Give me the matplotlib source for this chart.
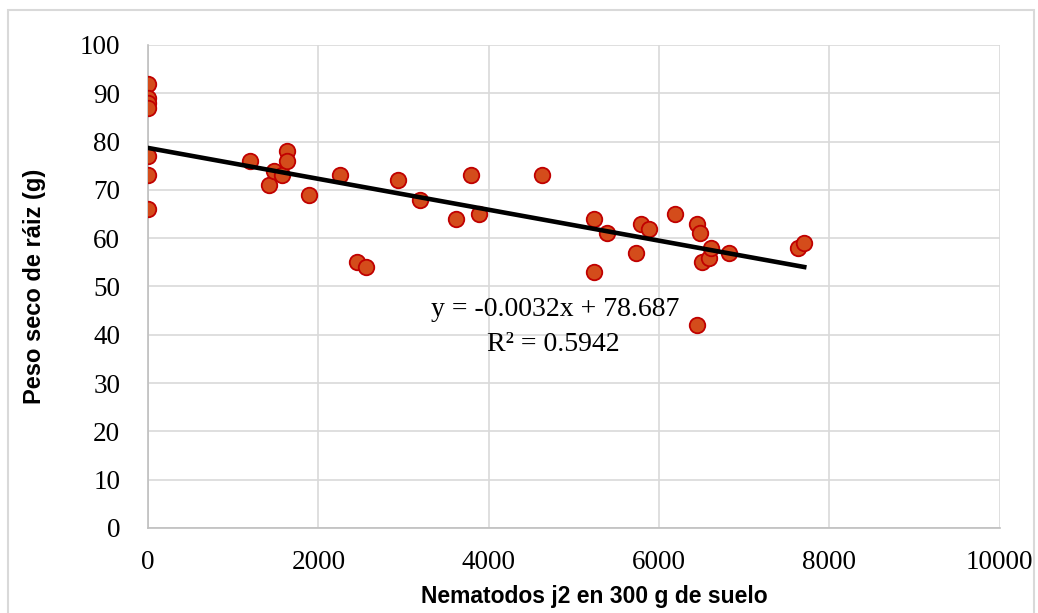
import matplotlib
matplotlib.use("Agg")
import matplotlib.pyplot as plt
import numpy as np
from matplotlib.patches import Rectangle

# nematode counts (j2 per 300 g soil) and root dry weight (g)
nematodos = [0, 0, 0, 0, 0, 0, 0,
             1200, 1420, 1480, 1570, 1635, 1635, 1890, 2255, 2450, 2555,
             2940, 3190, 3615, 3790, 3885, 4630,
             5235, 5235, 5390, 5735, 5790, 5880, 6190, 6440, 6445, 6485,
             6500, 6585, 6605, 6825, 7635, 7705]
peso_raiz = [92, 89, 88, 87, 77, 73, 66,
             76, 71, 74, 73, 78, 76, 69, 73, 55, 54,
             72, 68, 64, 73, 65, 73,
             64, 53, 61, 57, 63, 62, 65, 63, 42, 61,
             55, 56, 58, 57, 58, 59]

# linear trend as printed on the chart
pendiente = -0.0032
intercepto = 78.687
r2 = 0.5942

xticks = [0, 2000, 4000, 6000, 8000, 10000]
yticks = list(range(0, 101, 10))

fig = plt.figure(figsize=(10.38, 6.13), dpi=100)
ax = fig.add_axes([0.1426, 0.1387, 0.8205, 0.7879])

# chart area border
fig.patches.append(Rectangle((8 / 1038, -0.01), 1026 / 1038, 1 - 10 / 613 + 0.01,
                             transform=fig.transFigure, fill=False,
                             edgecolor="#D9D9D9", lw=1.5))

ax.scatter(nematodos, peso_raiz, s=125, color="#D44C1B", edgecolors="#C00000",
           linewidths=1.3, zorder=3)

xl = np.array([0, max(nematodos)])
ax.plot(xl, pendiente * xl + intercepto, color="black", lw=3.3, zorder=4)

ax.text(4780, 45.2, f"y = {pendiente}x + {intercepto}", ha="center", va="center",
        fontsize=20, family="Liberation Serif")
ax.text(4760, 38.0, f"R² = {r2}", ha="center", va="center",
        fontsize=20, family="Liberation Serif")

ax.set_xlim(0, 10000)
ax.set_ylim(0, 100)
ax.set_xticks(xticks)
ax.set_yticks(yticks)
ax.grid(True, color="#D9D9D9", lw=1.2)
ax.set_axisbelow(True)
for s in ["top", "right"]:
    ax.spines[s].set_visible(False)
for s in ["left", "bottom"]:
    ax.spines[s].set_color("#BFBFBF")
    ax.spines[s].set_linewidth(1.2)
ax.tick_params(length=0, labelsize=19.5, pad=20)
ax.tick_params(axis="x", pad=16)
for lab in ax.get_xticklabels() + ax.get_yticklabels():
    lab.set_family("Liberation Serif")

ax.set_xlabel("Nematodos j2 en 300 g de suelo", fontsize=16.5, fontweight="bold",
              family="Liberation Sans")
ax.xaxis.set_label_coords(0.524, -0.118)
ax.set_ylabel("Peso seco de ráiz (g)", fontsize=17, fontweight="bold",
              family="Liberation Sans", labelpad=24)

fig.savefig("out.png", dpi=100)
